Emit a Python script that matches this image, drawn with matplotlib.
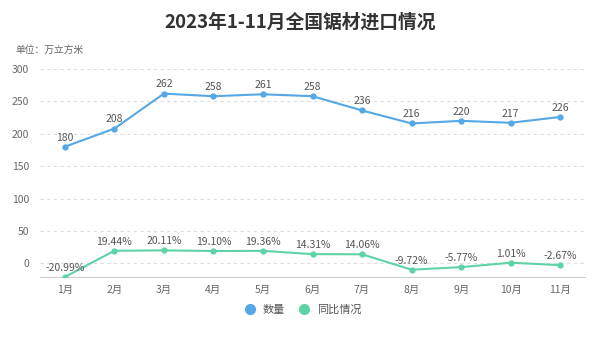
import matplotlib
matplotlib.use("Agg")
import matplotlib.pyplot as plt
from matplotlib.lines import Line2D

plt.rcParams['font.family'] = ['Noto Sans CJK SC', 'DejaVu Sans']

months = ["1月", "2月", "3月", "4月", "5月", "6月", "7月", "8月", "9月", "10月", "11月"]
quantity = [180, 208, 262, 258, 261, 258, 236, 216, 220, 217, 226]
yoy = [-20.99, 19.44, 20.11, 19.10, 19.36, 14.31, 14.06, -9.72, -5.77, 1.01, -2.67]
yticks = [0, 50, 100, 150, 200, 250, 300]

blue = "#55a7e5"
green = "#5ed3a6"

fig = plt.figure(figsize=(6, 3.37), dpi=100)
ax = fig.add_axes([40/600, 1-277/337, 545/600, (277-69)/337])
x = list(range(len(months)))

ax.plot(x, quantity, color=blue, lw=1.5, marker='o', ms=3.5, zorder=3)
ax.plot(x, yoy, color=green, lw=1.5, marker='o', ms=3.5, zorder=3)

for xi, v in zip(x, quantity):
    ax.annotate(f"{v}", (xi, v), xytext=(0, 3), textcoords='offset points',
                ha='center', va='bottom', fontsize=7.5, color='#555555')
for xi, v in zip(x, yoy):
    ax.annotate(f"{v:.2f}%", (xi, v), xytext=(0, 3), textcoords='offset points',
                ha='center', va='bottom', fontsize=7.5, color='#555555')

ax.set_xlim(-0.5, len(months) - 0.5)
ax.set_ylim(-20.99, 300)
ax.set_yticks(yticks)
ax.set_xticks(x)
ax.set_xticklabels(months)
ax.tick_params(axis='both', length=0, labelsize=7.5, colors='#666666')
ax.tick_params(axis='x', pad=6)
ax.tick_params(axis='y', pad=8)
ax.grid(axis='y', color='#dddddd', linestyle=(0, (3, 3)), lw=0.8)
for s in ['top', 'right', 'left']:
    ax.spines[s].set_visible(False)
ax.spines['bottom'].set_color('#cccccc')
ax.set_facecolor('none')

fig.text(0.5, 1-22/337, "2023年1-11月全国锯材进口情况", ha='center', va='center',
         fontsize=13.5, fontweight='bold', color='#333333')
fig.text(15/600, 1-50/337, "单位：万立方米", ha='left', va='center', fontsize=7, color='#666666')

handles = [Line2D([], [], color=blue, marker='o', ls='none', ms=7),
           Line2D([], [], color=green, marker='o', ls='none', ms=7)]
fig.legend(handles, ["数量", "同比情况"], loc='center', bbox_to_anchor=(0.5, 1-310/337),
           ncol=2, frameon=False, fontsize=8, handletextpad=0.1, columnspacing=0.8,
           labelcolor='#555555')

fig.savefig("out.png", dpi=100, facecolor='white')
